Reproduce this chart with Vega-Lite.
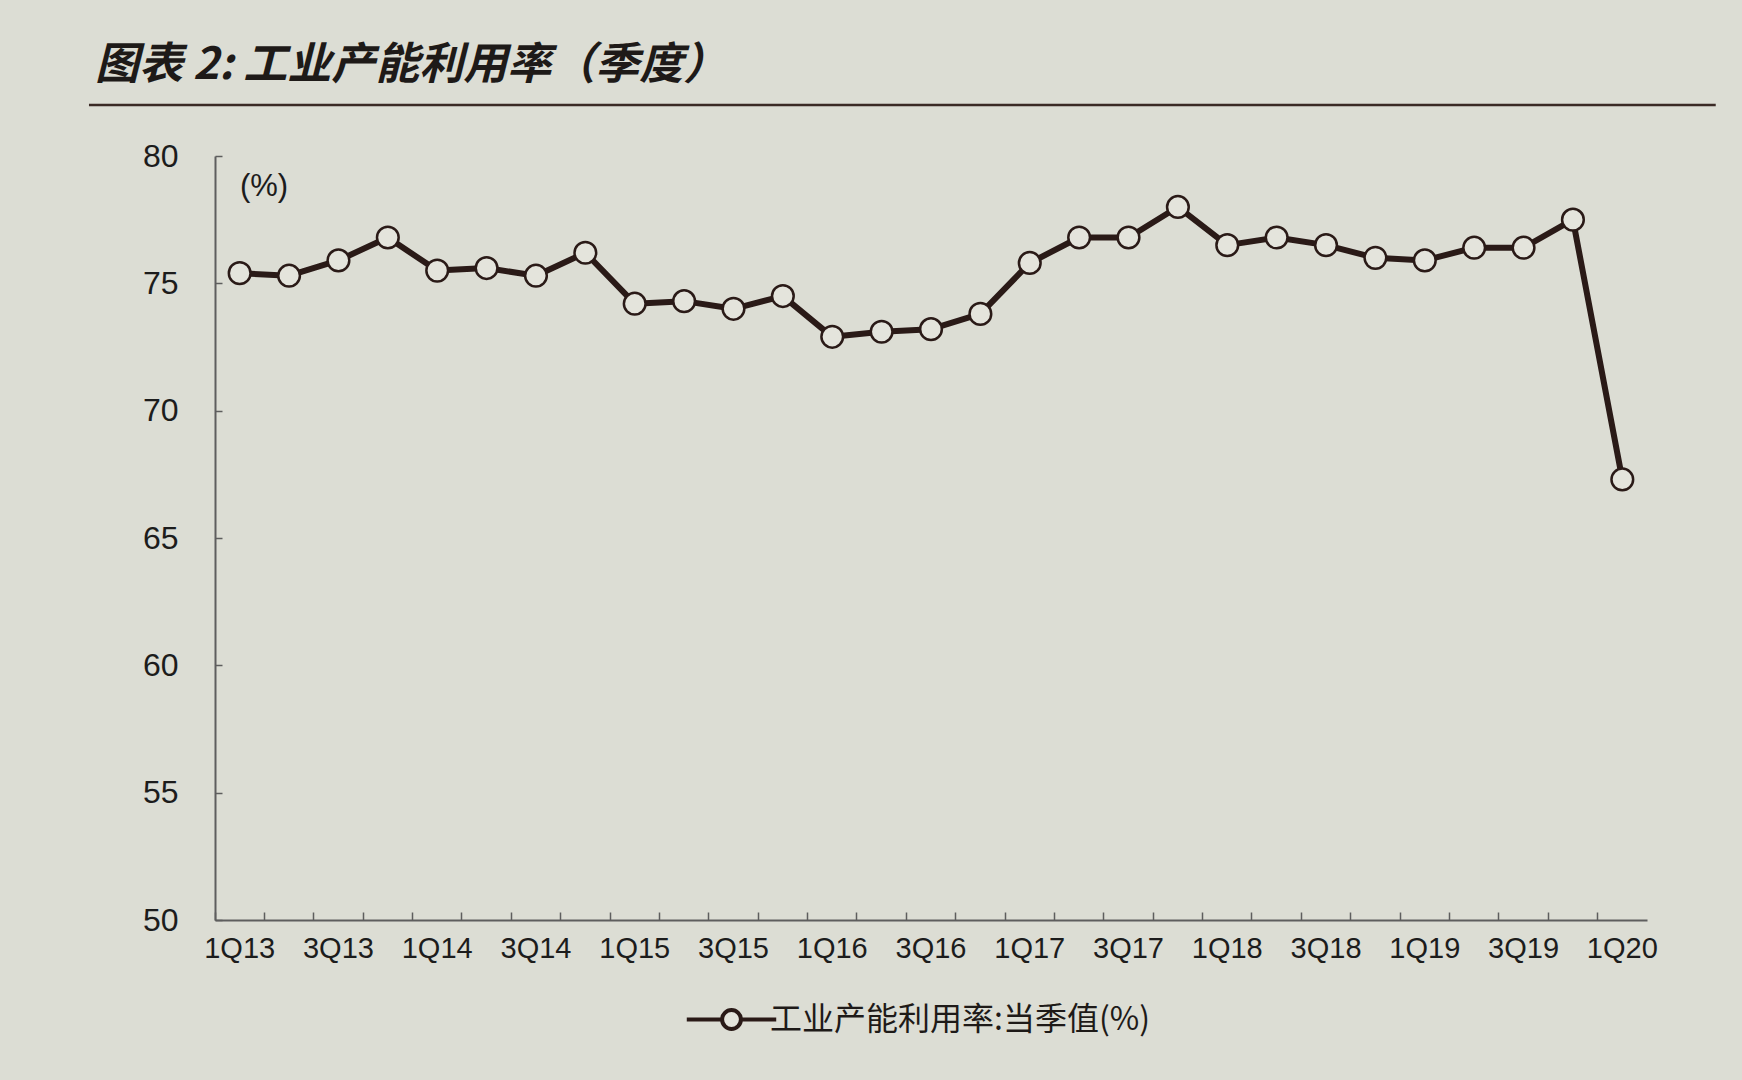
{
  "$schema": "https://vega.github.io/schema/vega-lite/v6.json",
  "autosize": "none",
  "width": 1432,
  "height": 764,
  "padding": {"left": 215, "top": 156, "right": 95, "bottom": 160},
  "background": "#dcddd4",
  "title": {
    "text": "图表 2:  工业产能利用率（季度）",
    "anchor": "start",
    "frame": "group",
    "dx": -120,
    "offset": 16,
    "font": "Noto Sans CJK SC",
    "fontSize": 44,
    "fontWeight": "bold",
    "fontStyle": "italic",
    "color": "#1e1a18"
  },
  "config": {
    "view": {"stroke": null},
    "font": "Liberation Sans",
    "axis": {"labelFont": "Liberation Sans", "labelColor": "#1c1c1c", "domainColor": "#5e5e5e", "tickColor": "#5e5e5e", "domainWidth": 2, "tickWidth": 1.5, "grid": false}
  },
  "data": {
    "values": [
      {"q": "1Q13", "v": 75.4}, {"q": "2Q13", "v": 75.3}, {"q": "3Q13", "v": 75.9}, {"q": "4Q13", "v": 76.8},
      {"q": "1Q14", "v": 75.5}, {"q": "2Q14", "v": 75.6}, {"q": "3Q14", "v": 75.3}, {"q": "4Q14", "v": 76.2},
      {"q": "1Q15", "v": 74.2}, {"q": "2Q15", "v": 74.3}, {"q": "3Q15", "v": 74.0}, {"q": "4Q15", "v": 74.5},
      {"q": "1Q16", "v": 72.9}, {"q": "2Q16", "v": 73.1}, {"q": "3Q16", "v": 73.2}, {"q": "4Q16", "v": 73.8},
      {"q": "1Q17", "v": 75.8}, {"q": "2Q17", "v": 76.8}, {"q": "3Q17", "v": 76.8}, {"q": "4Q17", "v": 78.0},
      {"q": "1Q18", "v": 76.5}, {"q": "2Q18", "v": 76.8}, {"q": "3Q18", "v": 76.5}, {"q": "4Q18", "v": 76.0},
      {"q": "1Q19", "v": 75.9}, {"q": "2Q19", "v": 76.4}, {"q": "3Q19", "v": 76.4}, {"q": "4Q19", "v": 77.5},
      {"q": "1Q20", "v": 67.3}
    ]
  },
  "resolve": {"scale": {"x": "independent"}},
  "layer": [
    {
      "mark": {"type": "line", "strokeWidth": 6, "strokeJoin": "round"},
      "encoding": {
        "x": {
          "field": "q", "type": "ordinal", "sort": null,
          "scale": {"type": "band", "paddingInner": 0, "paddingOuter": 0},
          "axis": {
            "title": null, "labelAngle": 0, "labelFontSize": 29, "labelPadding": 22,
            "bandPosition": 0, "tickSize": -8, "labelOverlap": false,
            "labelExpr": "(substring(datum.label,0,1)=='1' || substring(datum.label,0,1)=='3') ? datum.label : ''"
          }
        },
        "y": {
          "field": "v", "type": "quantitative",
          "scale": {"domain": [50, 80], "nice": false, "zero": false},
          "axis": {"title": null, "values": [50, 55, 60, 65, 70, 75, 80], "labelFontSize": 32, "labelPadding": 44, "tickSize": -7}
        },
        "color": {
          "datum": "工业产能利用率:当季值(%)",
          "scale": {"range": ["#2a1a17"]},
          "legend": {
            "title": null, "orient": "none", "legendX": 492, "legendY": 839,
            "symbolType": "M-2,0L-0.42,0M0.42,0L2,0M-0.42,0A0.42,0.42 0 1,0 0.42,0A0.42,0.42 0 1,0 -0.42,0",
            "symbolSize": 2000, "symbolStrokeWidth": 4, "symbolStrokeColor": "#5e1c1c", "symbolFillColor": "#e4e4dc",
            "labelFont": "Noto Sans CJK SC", "labelFontSize": 32, "labelColor": "#1e1a18", "labelOffset": 14, "labelLimit": 0
          }
        }
      }
    },
    {
      "mark": {"type": "point", "filled": true, "fill": "#e4e4dc", "stroke": "#2a1a17", "strokeWidth": 2.5, "size": 470, "opacity": 1},
      "encoding": {
        "x": {"field": "q", "type": "ordinal", "sort": null, "scale": {"type": "band", "paddingInner": 0, "paddingOuter": 0}, "axis": null},
        "y": {"field": "v", "type": "quantitative"}
      }
    },
    {
      "data": {"values": [{"q": "2Q13", "t": "(%)", "v": 78.8}]},
      "mark": {"type": "text", "fontSize": 31, "font": "Liberation Sans", "color": "#1c1c1c", "align": "center", "baseline": "middle"},
      "encoding": {
        "x": {"field": "q", "type": "ordinal", "scale": {"type": "point", "domain": ["1Q13", "2Q13", "3Q13"], "range": [24, 74]}, "axis": null},
        "y": {"field": "v", "type": "quantitative"},
        "text": {"field": "t"}
      }
    },
    {
      "data": {"values": [{"a": -0.088, "b": 1.048, "v": 82.0}]},
      "mark": {"type": "rule", "color": "#3a2a25", "strokeWidth": 2.5},
      "encoding": {
        "x": {"field": "a", "type": "quantitative", "scale": {"domain": [0, 1]}, "axis": null},
        "x2": {"field": "b"},
        "y": {"field": "v", "type": "quantitative"}
      }
    }
  ]
}
